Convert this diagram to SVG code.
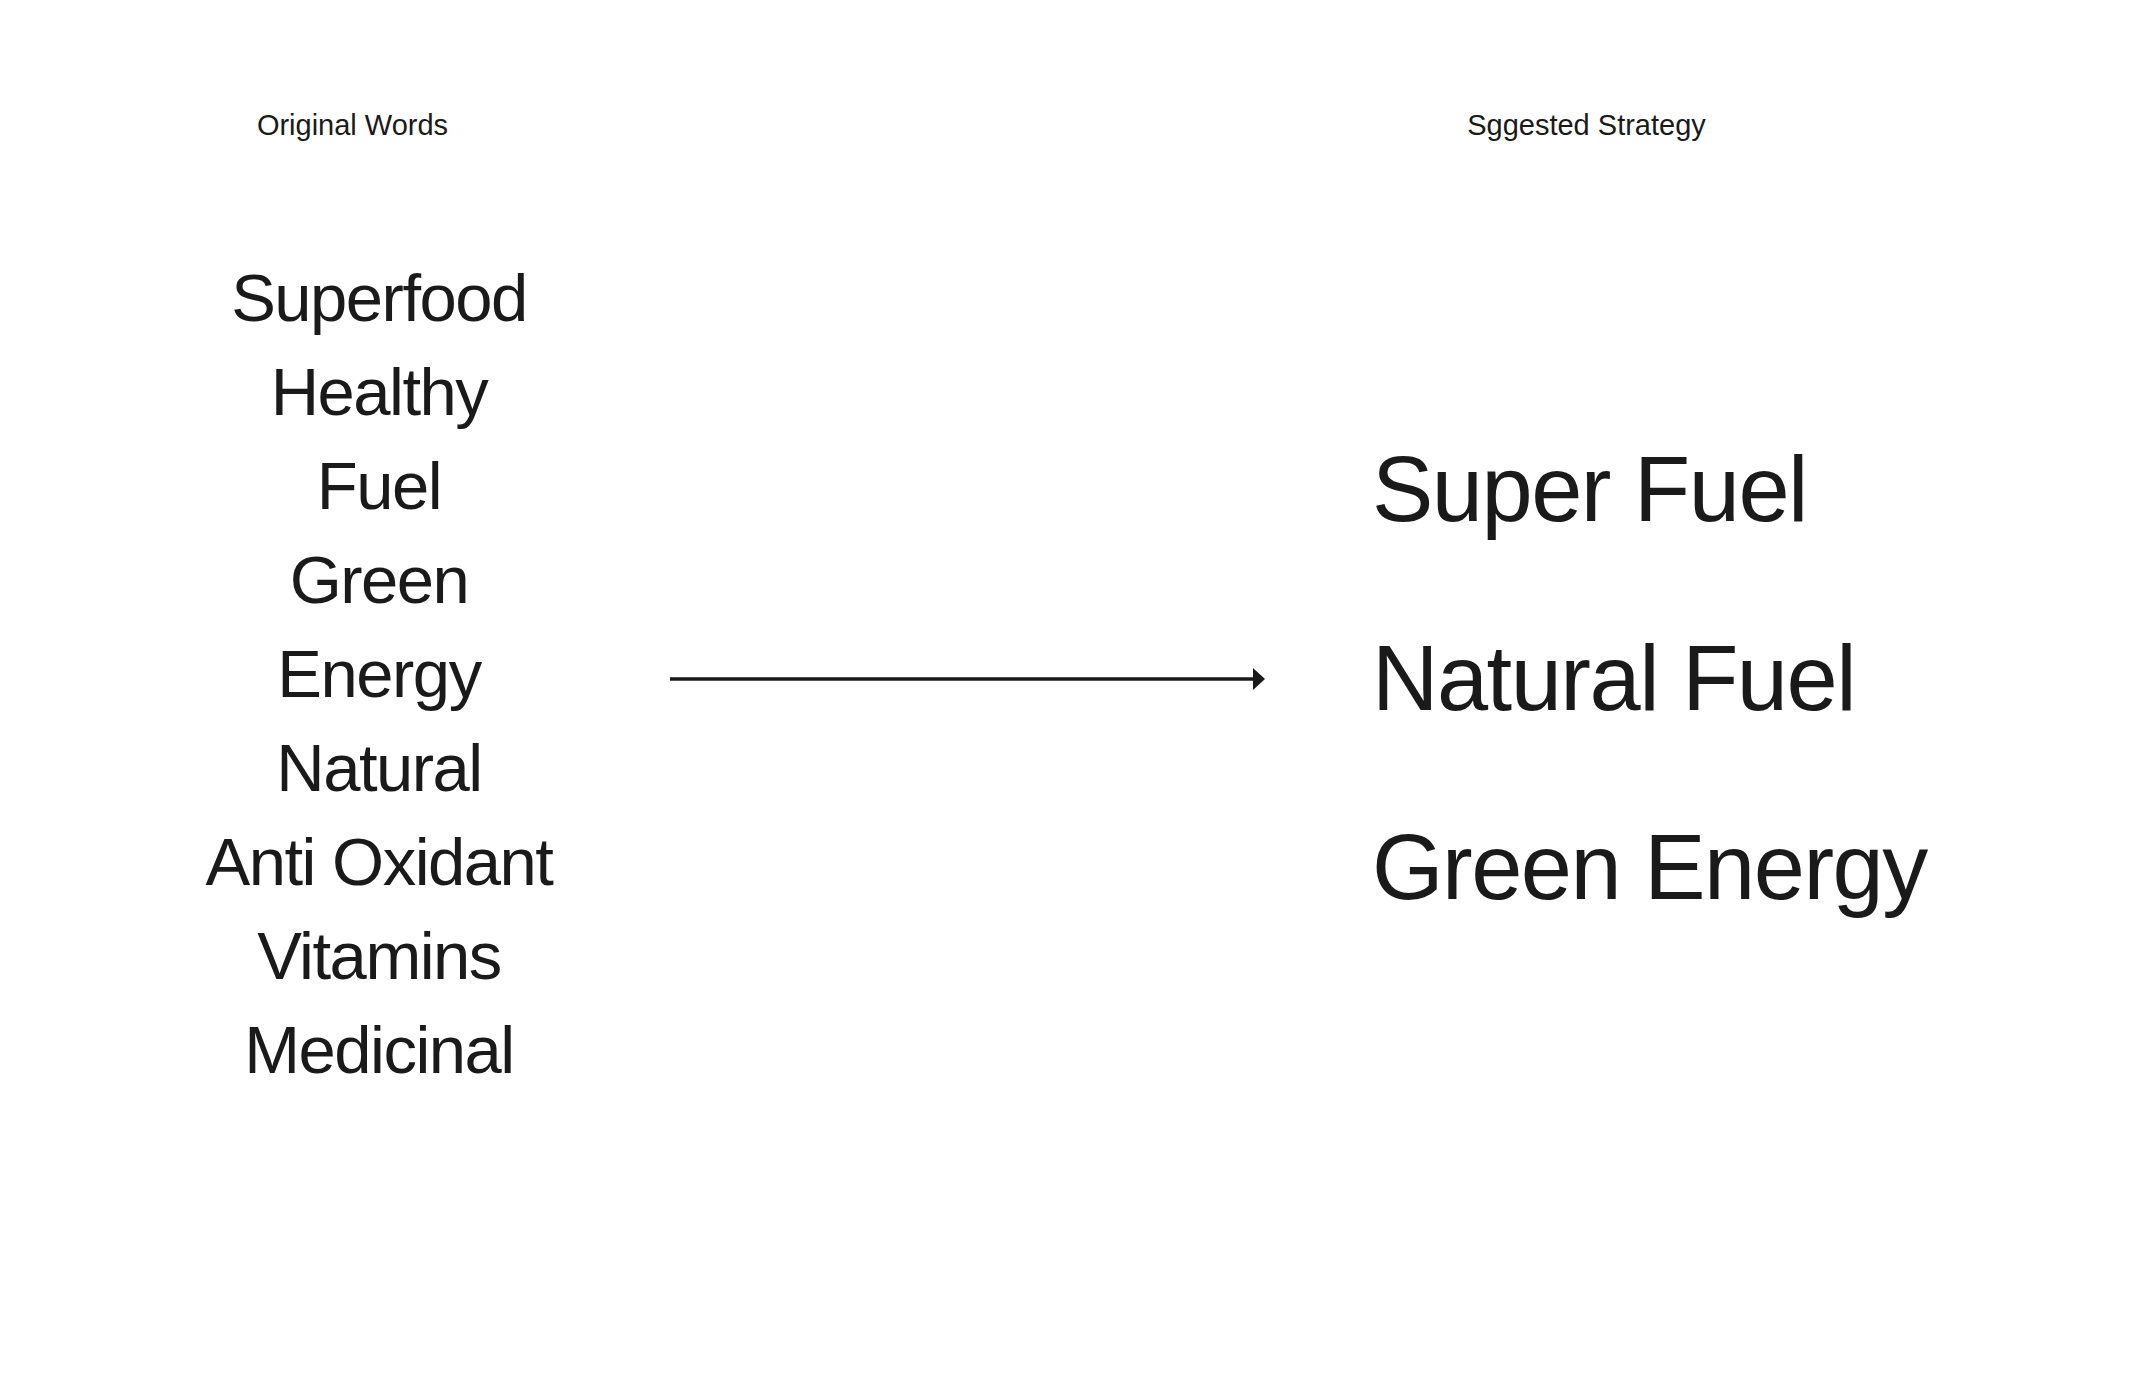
<svg xmlns="http://www.w3.org/2000/svg" width="2148" height="1398" viewBox="0 0 2148 1398">
  <style>
    text { font-family: "Liberation Sans", Arial, sans-serif; fill: #1a1a1a; }
    .hdr { font-size: 29px; }
    .word { font-size: 67px; letter-spacing: -1.5px; text-anchor: middle; }
    .big { font-size: 92px; letter-spacing: -1.5px; }
    .conn { stroke: #1a1a1a; stroke-width: 3.5; fill: none; }
  </style>
  <defs>
    <marker id="arrow" markerUnits="userSpaceOnUse" markerWidth="12" markerHeight="22" refX="0" refY="11" orient="auto">
      <path d="M0,0 L12,11 L0,22 z" fill="#1a1a1a"/>
    </marker>
  </defs>
  <rect width="2148" height="1398" fill="#ffffff"/>

  <g id="header-original">
    <text class="hdr" x="352.5" y="135" text-anchor="middle">Original Words</text>
  </g>
  <g id="header-strategy">
    <text class="hdr" x="1586.5" y="135" text-anchor="middle">Sggested Strategy</text>
  </g>

  <g id="original-words">
    <text class="word" x="379" y="321">Superfood</text>
    <text class="word" x="379" y="415">Healthy</text>
    <text class="word" x="379" y="509">Fuel</text>
    <text class="word" x="379" y="603">Green</text>
    <text class="word" x="379" y="697">Energy</text>
    <text class="word" x="379" y="791">Natural</text>
    <text class="word" x="379" y="885">Anti Oxidant</text>
    <text class="word" x="379" y="979">Vitamins</text>
    <text class="word" x="379" y="1073">Medicinal</text>
  </g>

  <g id="suggested-strategy">
    <text class="big" x="1372" y="521">Super Fuel</text>
    <text class="big" x="1372" y="710">Natural Fuel</text>
    <text class="big" x="1372" y="899">Green Energy</text>
  </g>

  <g id="connectors">
    <line class="conn" x1="670" y1="679" x2="1253" y2="679" marker-end="url(#arrow)"/>
  </g>
</svg>
